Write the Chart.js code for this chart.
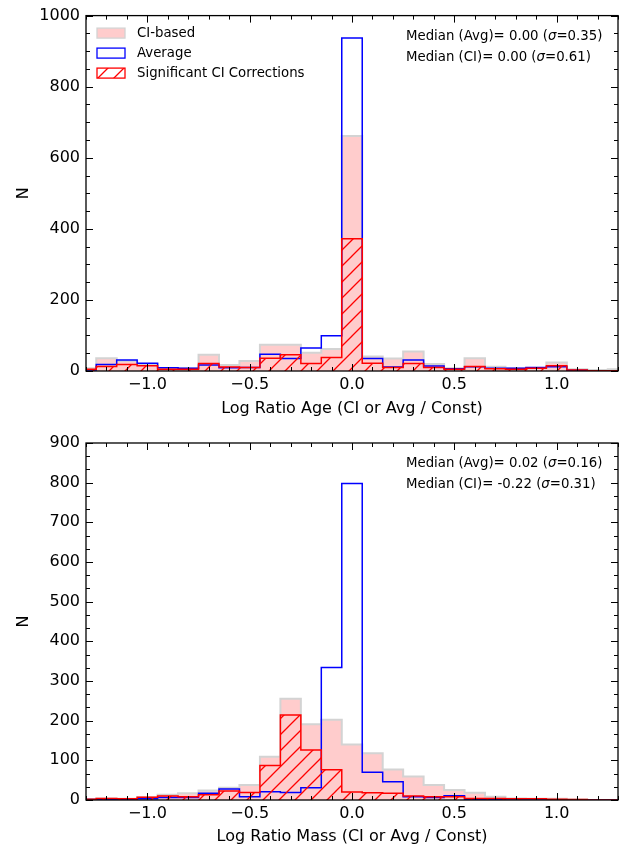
<!DOCTYPE html>
<html>
<head>
<meta charset="utf-8">
<script src="https://cdn.jsdelivr.net/npm/chart.js@4.4.0/dist/chart.umd.min.js"></script>
<style>
  html, body { margin: 0; padding: 0; background: #fff; }
  canvas { display: block; }
</style>
</head>
<body>
<canvas id="age" width="624" height="423"></canvas>
<canvas id="mass" width="624" height="424"></canvas>
<script>
// bin centres (bin width 0.1), shared by both panels
const binCenters = [-1.3, -1.2, -1.1, -1.0, -0.9, -0.8, -0.7, -0.6, -0.5, -0.4, -0.3, -0.2, -0.1, 0.0,
                    0.1, 0.2, 0.3, 0.4, 0.5, 0.6, 0.7, 0.8, 0.9, 1.0, 1.1, 1.2, 1.3];
const binWidth = 0.1;

// top panel: log ratio age
const ageCI  = [8, 36, 28, 20, 8, 8, 46, 17, 28, 74, 74, 51, 62, 661, 41, 35, 55, 20, 8, 36, 12, 8, 8, 24, 5, 3, 5];
const ageAvg = [3, 18, 31, 22, 9, 8, 17, 9, 10, 47, 35, 65, 99, 937, 35, 11, 31, 14, 6, 12, 8, 8, 10, 12, 2, 1, 1];
const ageSig = [5, 13, 18, 15, 5, 5, 21, 11, 10, 36, 46, 21, 38, 372, 22, 10, 21, 10, 5, 13, 6, 5, 8, 15, 3, 1, 1];
const ageNotes = ['Median (Avg)= 0.00 (σ=0.35)', 'Median (CI)= 0.00 (σ=0.61)'];
const ageYTicks = [0, 200, 400, 600, 800, 1000];

// bottom panel: log ratio mass
const massCI  = [2, 4, 3, 7, 13, 17, 24, 31, 38, 109, 255, 191, 202, 140, 118, 77, 59, 38, 25, 18, 8, 4, 3, 3, 1, 0, 0];
const massAvg = [1, 1, 1, 3, 6, 6, 17, 28, 8, 21, 19, 31, 334, 798, 70, 46, 8, 6, 11, 2, 1, 0, 0, 0, 0, 0, 0];
const massSig = [2, 4, 3, 7, 10, 8, 13, 23, 19, 87, 214, 126, 76, 20, 18, 17, 10, 8, 8, 4, 4, 3, 3, 2, 1, 0, 0];
const massNotes = ['Median (Avg)= 0.02 (σ=0.16)', 'Median (CI)= -0.22 (σ=0.31)'];
const massYTicks = [0, 100, 200, 300, 400, 500, 600, 700, 800, 900];

const xTicks = [-1.0, -0.5, 0.0, 0.5, 1.0];
const legendLabels = ['CI-based', 'Average', 'Significant CI Corrections'];

const FONT = '"DejaVu Sans", Verdana, sans-serif';

// step outline for a histogram: bin edges -> points
function stepPoints(counts) {
    const half = binWidth / 2;
    const pts = [{ x: binCenters[0] - half, y: 0 }];
    counts.forEach((c, i) => pts.push({ x: binCenters[i] - half, y: c }));
    const last = binCenters[binCenters.length - 1] + half;
    pts.push({ x: last, y: counts[counts.length - 1] });
    pts.push({ x: last, y: 0 });
    return pts;
}

// '/' hatch like matplotlib
function hatchPattern(color, size) {
    const c = document.createElement('canvas');
    c.width = c.height = size;
    const g = c.getContext('2d');
    g.strokeStyle = color;
    g.lineWidth = 1.3;
    g.beginPath();
    g.moveTo(0, size); g.lineTo(size, 0);
    g.moveTo(-size / 2, size / 2); g.lineTo(size / 2, -size / 2);
    g.moveTo(size / 2, size * 1.5); g.lineTo(size * 1.5, size / 2);
    g.stroke();
    return g.createPattern(c, 'repeat');
}
const hatch = hatchPattern('#ff0000', 16);

function fmtTick(v) {
    const s = Math.abs(v).toFixed(1);
    return v < 0 ? '\u2212' + s : s;
}

// frame, inward ticks, legend and the median notes
const framePlugin = {
    id: 'frame',
    afterDatasetsDraw(chart, args, opts) {
        const { ctx, chartArea: a, scales: { x, y } } = chart;
        ctx.save();
        ctx.strokeStyle = '#000';
        ctx.lineWidth = 1;
        ctx.beginPath();
        for (let i = -13; i <= 13; i++) {
            const px = Math.round(x.getPixelForValue(i / 10)) + 0.5;
            const len = i % 5 === 0 ? 7 : 4;
            ctx.moveTo(px, a.bottom); ctx.lineTo(px, a.bottom - len);
            ctx.moveTo(px, a.top); ctx.lineTo(px, a.top + len);
        }
        const n = Math.round(y.max / opts.minorStep);
        for (let k = 0; k <= n; k++) {
            const v = k * opts.minorStep;
            const py = Math.round(y.getPixelForValue(v)) + 0.5;
            const len = k % opts.minorPerMajor === 0 ? 7 : 4;
            ctx.moveTo(a.left, py); ctx.lineTo(a.left + len, py);
            ctx.moveTo(a.right, py); ctx.lineTo(a.right - len, py);
        }
        ctx.stroke();

        ctx.lineWidth = 1.3;
        ctx.strokeRect(a.left, a.top, a.width, a.height);

        ctx.fillStyle = '#000';
        ctx.textBaseline = 'middle';
        ctx.textAlign = 'left';
        opts.notes.forEach((line, i) => {
            let tx = a.right - 212;
            const ty = a.top + 20.5 + i * 21;
            const parts = line.split('σ');
            parts.forEach((p, j) => {
                ctx.font = '13.3px ' + FONT;
                ctx.fillText(p, tx, ty);
                tx += ctx.measureText(p).width;
                if (j < parts.length - 1) {
                    ctx.font = 'italic 13.3px ' + FONT;
                    ctx.fillText('σ', tx, ty);
                    tx += ctx.measureText('σ').width;
                }
            });
        });

        if (opts.legend) {
            chart.data.datasets.forEach((ds, i) => {
                const bx = a.left + 11, by = a.top + 17.5 + i * 20;
                ctx.fillStyle = ds.backgroundColor;
                ctx.fillRect(bx, by - 5, 28, 10);
                ctx.strokeStyle = ds.borderColor;
                ctx.lineWidth = 1.3;
                ctx.strokeRect(bx, by - 5, 28, 10);
                ctx.fillStyle = '#000';
                ctx.font = '13.3px ' + FONT;
                ctx.fillText(ds.label, a.left + 51, by);
            });
        }
        ctx.restore();
    }
};

function makeChart(id, cfg) {
    const tickFont = { family: FONT, size: 16 };
    return new Chart(document.getElementById(id), {
        type: 'line',
        data: {
            datasets: [
                { label: legendLabels[0], data: stepPoints(cfg.ci), stepped: 'before', fill: 'origin',
                  backgroundColor: '#ffcccc', borderColor: '#d3d3d3', borderWidth: 2, pointRadius: 0, order: 3, clip: 0 },
                { label: legendLabels[1], data: stepPoints(cfg.avg), stepped: 'before', fill: false,
                  backgroundColor: 'rgba(255,255,255,0)', borderColor: '#0000ff', borderWidth: 1.5, pointRadius: 0, order: 2, clip: 0 },
                { label: legendLabels[2], data: stepPoints(cfg.sig), stepped: 'before', fill: 'origin',
                  backgroundColor: hatch, borderColor: '#ff0000', borderWidth: 1.5, pointRadius: 0, order: 1, clip: 0 }
            ]
        },
        options: {
            responsive: false,
            animation: false,
            devicePixelRatio: 1,
            layout: { padding: { top: cfg.padTop, right: 6, left: 0, bottom: 0 } },
            plugins: {
                legend: { display: false },
                tooltip: { enabled: false },
                frame: { notes: cfg.notes, legend: cfg.legend, minorStep: cfg.minorStep, minorPerMajor: cfg.minorPerMajor }
            },
            scales: {
                x: {
                    type: 'linear', min: -1.3, max: 1.3,
                    afterBuildTicks: s => { s.ticks = xTicks.map(v => ({ value: v })); },
                    afterFit: s => { s.height = cfg.xHeight; },
                    grid: { display: false, drawTicks: false },
                    border: { display: false },
                    ticks: { font: tickFont, color: '#000', padding: 4, maxRotation: 0, callback: v => fmtTick(v) },
                    title: { display: true, text: cfg.xTitle, font: tickFont, color: '#000', padding: { top: 0, bottom: cfg.titlePad } }
                },
                y: {
                    type: 'linear', min: 0, max: cfg.yTicks[cfg.yTicks.length - 1],
                    afterBuildTicks: s => { s.ticks = cfg.yTicks.map(v => ({ value: v })); },
                    afterFit: s => { s.width = 86; },
                    grid: { display: false, drawTicks: false },
                    border: { display: false },
                    ticks: { font: tickFont, color: '#000', padding: 6, callback: v => String(v) },
                    title: { display: true, text: 'N', font: tickFont, color: '#000', padding: { top: 14, bottom: 0 } }
                }
            }
        },
        plugins: [framePlugin]
    });
}

makeChart('age', {
    ci: ageCI, avg: ageAvg, sig: ageSig, notes: ageNotes, legend: true,
    yTicks: ageYTicks, minorStep: 50, minorPerMajor: 4,
    xTitle: 'Log Ratio Age (CI or Avg / Const)', padTop: 15, xHeight: 52, titlePad: 5
});
makeChart('mass', {
    ci: massCI, avg: massAvg, sig: massSig, notes: massNotes, legend: false,
    yTicks: massYTicks, minorStep: 100 / 3, minorPerMajor: 3,
    xTitle: 'Log Ratio Mass (CI or Avg / Const)', padTop: 20, xHeight: 47, titlePad: 1
});
</script>
</body>
</html>
